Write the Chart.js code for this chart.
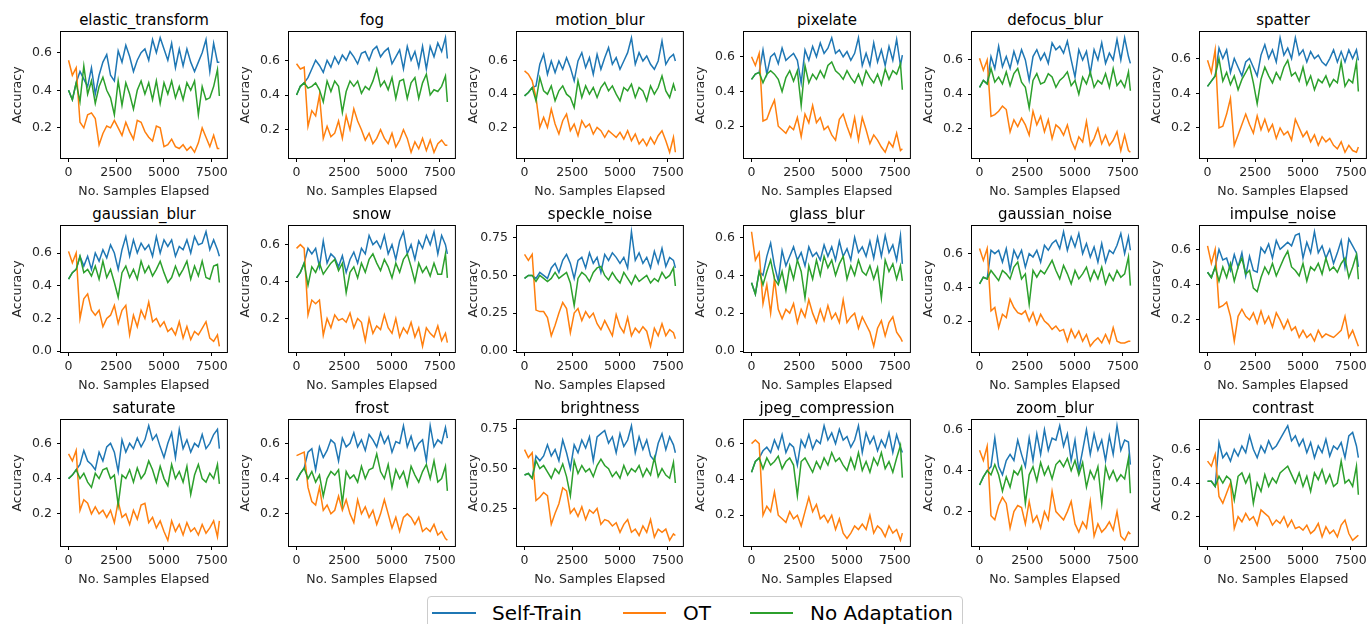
<!DOCTYPE html>
<html>
<head>
<meta charset="utf-8">
<script src="https://cdn.jsdelivr.net/npm/chart.js@4.4.1/dist/chart.umd.min.js"></script>
<style>
html,body{margin:0;padding:0;background:#fff;}
body{width:1369px;height:624px;overflow:hidden;position:relative;font-family:"DejaVu Sans",sans-serif;}
canvas.sub{position:absolute;}
.ttl{position:absolute;width:166px;text-align:center;font-size:15px;line-height:18px;color:#000;white-space:nowrap;}
#legend{position:absolute;left:427px;top:596px;width:536px;height:44px;border:1px solid #ccc;border-radius:4px;box-sizing:border-box;background:#fff;}
.lline{position:absolute;height:2px;top:612px;}
.ltext{position:absolute;top:601px;font-size:20px;line-height:24px;color:#000;white-space:nowrap;}
</style>
</head>
<body>
<div id="legend"></div>
<div class="lline" style="left:432px;width:44px;background:#1f77b4"></div>
<div class="ltext" style="left:492px">Self-Train</div>
<div class="lline" style="left:623px;width:43px;background:#ff7f0e"></div>
<div class="ltext" style="left:683px">OT</div>
<div class="lline" style="left:750px;width:43px;background:#2ca02c"></div>
<div class="ltext" style="left:810px">No Adaptation</div>
<script>
// ---------- data ----------
const corruptions = ["elastic_transform","fog","motion_blur","pixelate","defocus_blur","spatter",
  "gaussian_blur","snow","speckle_noise","glass_blur","gaussian_noise","impulse_noise",
  "saturate","frost","brightness","jpeg_compression","zoom_blur","contrast"];
const seriesNames = ["Self-Train","OT","No Adaptation"];
const xSamples = [0,200,400,600,800,1000,1200,1400,1600,1800,2000,2200,2400,2600,2800,3000,3200,3400,3600,3800,
  4000,4200,4400,4600,4800,5000,5200,5400,5600,5800,6000,6200,6400,6600,6800,7000,7200,7400,7600,7800,7900];
const xTicks = [0,2500,5000,7500];
const yTickSteps = [0.2,0.2,0.2,0.2,0.2,0.2, 0.2,0.2,0.25,0.2,0.2,0.2, 0.2,0.2,0.25,0.2,0.2,0.2];

const st_elastic_transform = [0.40,0.35,0.44,0.50,0.46,0.42,0.52,0.38,0.48,0.55,0.59,0.48,0.45,0.61,0.55,0.64,0.58,0.50,0.56,0.60,0.62,0.56,0.67,0.60,0.68,0.62,0.56,0.65,0.52,0.62,0.53,0.62,0.55,0.50,0.55,0.60,0.67,0.50,0.65,0.55,0.55];
const ot_elastic_transform = [0.56,0.48,0.52,0.23,0.20,0.27,0.28,0.25,0.11,0.17,0.21,0.20,0.24,0.20,0.16,0.23,0.18,0.14,0.24,0.23,0.18,0.15,0.13,0.21,0.20,0.10,0.11,0.14,0.10,0.09,0.11,0.08,0.10,0.07,0.12,0.20,0.15,0.10,0.16,0.09,0.09];
const na_elastic_transform = [0.40,0.35,0.44,0.34,0.53,0.38,0.45,0.33,0.42,0.47,0.40,0.36,0.27,0.45,0.32,0.44,0.38,0.30,0.40,0.45,0.38,0.44,0.35,0.45,0.33,0.44,0.38,0.45,0.36,0.42,0.35,0.44,0.40,0.45,0.27,0.42,0.35,0.36,0.42,0.51,0.37];

const st_fog = [0.40,0.45,0.47,0.50,0.55,0.60,0.57,0.53,0.60,0.56,0.62,0.58,0.63,0.60,0.65,0.62,0.58,0.64,0.65,0.60,0.66,0.68,0.62,0.65,0.67,0.58,0.62,0.66,0.55,0.68,0.60,0.65,0.56,0.68,0.55,0.68,0.62,0.70,0.65,0.73,0.61];
const ot_fog = [0.58,0.55,0.56,0.22,0.31,0.28,0.40,0.15,0.22,0.16,0.18,0.25,0.15,0.28,0.20,0.32,0.25,0.20,0.14,0.18,0.12,0.15,0.20,0.15,0.12,0.18,0.10,0.14,0.20,0.15,0.07,0.13,0.09,0.15,0.08,0.14,0.07,0.12,0.14,0.11,0.11];
const na_fog = [0.40,0.45,0.47,0.44,0.45,0.47,0.43,0.36,0.48,0.42,0.48,0.45,0.30,0.42,0.48,0.45,0.48,0.41,0.45,0.43,0.48,0.55,0.45,0.48,0.43,0.50,0.38,0.48,0.49,0.38,0.47,0.50,0.38,0.47,0.52,0.40,0.43,0.42,0.45,0.51,0.36];

const st_motion_blur = [0.39,0.41,0.44,0.45,0.58,0.64,0.52,0.60,0.53,0.60,0.55,0.62,0.56,0.48,0.60,0.65,0.56,0.62,0.52,0.64,0.55,0.62,0.68,0.58,0.62,0.55,0.60,0.65,0.74,0.58,0.65,0.60,0.63,0.58,0.55,0.60,0.72,0.58,0.62,0.64,0.60];
const ot_motion_blur = [0.54,0.52,0.48,0.38,0.20,0.26,0.20,0.31,0.22,0.16,0.24,0.28,0.18,0.22,0.15,0.24,0.20,0.22,0.16,0.20,0.18,0.14,0.18,0.16,0.14,0.17,0.13,0.18,0.12,0.16,0.10,0.13,0.09,0.14,0.10,0.15,0.18,0.12,0.05,0.14,0.05];
const na_motion_blur = [0.39,0.41,0.44,0.36,0.50,0.42,0.40,0.45,0.36,0.42,0.45,0.40,0.38,0.32,0.48,0.38,0.45,0.40,0.44,0.38,0.44,0.47,0.42,0.45,0.40,0.36,0.44,0.42,0.46,0.38,0.44,0.42,0.36,0.45,0.40,0.44,0.51,0.42,0.38,0.46,0.42];

const st_pixelate = [0.47,0.50,0.51,0.64,0.50,0.60,0.62,0.56,0.65,0.58,0.60,0.62,0.58,0.45,0.64,0.58,0.66,0.60,0.68,0.62,0.65,0.71,0.62,0.64,0.60,0.63,0.58,0.62,0.71,0.55,0.62,0.55,0.68,0.57,0.64,0.55,0.66,0.58,0.70,0.55,0.61];
const ot_pixelate = [0.60,0.55,0.62,0.23,0.24,0.30,0.35,0.20,0.18,0.16,0.20,0.18,0.25,0.14,0.27,0.22,0.32,0.22,0.25,0.18,0.20,0.15,0.12,0.24,0.27,0.20,0.14,0.25,0.12,0.25,0.18,0.10,0.15,0.12,0.08,0.05,0.11,0.08,0.16,0.06,0.07];
const na_pixelate = [0.47,0.50,0.51,0.45,0.50,0.52,0.50,0.47,0.40,0.48,0.52,0.46,0.52,0.32,0.55,0.45,0.50,0.47,0.52,0.48,0.55,0.57,0.52,0.50,0.47,0.52,0.48,0.45,0.50,0.44,0.52,0.48,0.45,0.50,0.44,0.53,0.47,0.52,0.50,0.56,0.41];

const st_defocus_blur = [0.44,0.48,0.46,0.62,0.55,0.68,0.56,0.62,0.55,0.65,0.58,0.66,0.60,0.48,0.62,0.66,0.60,0.64,0.58,0.70,0.66,0.68,0.64,0.71,0.60,0.50,0.66,0.60,0.65,0.52,0.66,0.60,0.70,0.58,0.64,0.60,0.72,0.60,0.73,0.62,0.58];
const ot_defocus_blur = [0.61,0.54,0.60,0.27,0.28,0.30,0.33,0.31,0.18,0.25,0.21,0.26,0.22,0.16,0.30,0.22,0.27,0.18,0.25,0.14,0.22,0.20,0.16,0.22,0.13,0.08,0.15,0.12,0.24,0.10,0.14,0.20,0.11,0.16,0.10,0.13,0.18,0.07,0.16,0.07,0.06];
const na_defocus_blur = [0.44,0.48,0.46,0.55,0.47,0.50,0.46,0.53,0.45,0.52,0.55,0.47,0.44,0.32,0.48,0.52,0.46,0.47,0.52,0.50,0.44,0.48,0.50,0.53,0.45,0.48,0.40,0.50,0.46,0.53,0.44,0.48,0.46,0.52,0.44,0.55,0.45,0.48,0.44,0.53,0.42];

const st_spatter = [0.44,0.47,0.50,0.66,0.60,0.65,0.52,0.60,0.55,0.50,0.58,0.60,0.55,0.50,0.62,0.68,0.60,0.65,0.58,0.72,0.62,0.66,0.60,0.72,0.62,0.65,0.58,0.64,0.60,0.62,0.58,0.56,0.60,0.65,0.58,0.64,0.58,0.65,0.60,0.65,0.59];
const ot_spatter = [0.59,0.52,0.65,0.20,0.21,0.28,0.37,0.10,0.16,0.22,0.28,0.22,0.17,0.27,0.19,0.25,0.18,0.22,0.14,0.20,0.16,0.18,0.13,0.25,0.20,0.15,0.18,0.12,0.16,0.10,0.15,0.12,0.14,0.10,0.08,0.12,0.06,0.10,0.07,0.06,0.09];
const na_spatter = [0.44,0.47,0.50,0.60,0.47,0.52,0.45,0.50,0.42,0.48,0.52,0.56,0.46,0.34,0.48,0.55,0.50,0.46,0.52,0.48,0.55,0.59,0.50,0.52,0.47,0.55,0.45,0.50,0.42,0.48,0.46,0.50,0.44,0.48,0.46,0.58,0.44,0.48,0.46,0.58,0.41];

const st_gaussian_blur = [0.44,0.48,0.50,0.58,0.52,0.58,0.50,0.60,0.55,0.62,0.57,0.65,0.60,0.50,0.62,0.70,0.58,0.68,0.60,0.66,0.62,0.65,0.58,0.70,0.60,0.68,0.64,0.68,0.58,0.64,0.62,0.68,0.60,0.70,0.65,0.66,0.73,0.62,0.68,0.62,0.58];
const ot_gaussian_blur = [0.61,0.54,0.60,0.20,0.32,0.35,0.25,0.22,0.25,0.15,0.20,0.22,0.28,0.17,0.25,0.28,0.10,0.22,0.15,0.25,0.20,0.30,0.18,0.20,0.15,0.18,0.12,0.14,0.10,0.18,0.08,0.15,0.07,0.12,0.10,0.14,0.18,0.08,0.06,0.10,0.03];
const na_gaussian_blur = [0.44,0.48,0.50,0.58,0.48,0.50,0.46,0.52,0.44,0.55,0.45,0.50,0.42,0.33,0.48,0.52,0.45,0.50,0.44,0.55,0.48,0.52,0.46,0.50,0.55,0.48,0.42,0.45,0.52,0.46,0.50,0.55,0.44,0.52,0.46,0.55,0.45,0.44,0.52,0.53,0.42];

const st_snow = [0.42,0.45,0.50,0.58,0.55,0.58,0.48,0.62,0.50,0.55,0.53,0.48,0.54,0.45,0.52,0.56,0.50,0.58,0.55,0.65,0.60,0.62,0.58,0.65,0.55,0.60,0.52,0.62,0.67,0.55,0.60,0.52,0.62,0.58,0.65,0.60,0.67,0.55,0.65,0.60,0.55];
const ot_snow = [0.58,0.60,0.58,0.22,0.30,0.28,0.30,0.11,0.20,0.15,0.22,0.19,0.20,0.18,0.23,0.15,0.20,0.18,0.08,0.20,0.12,0.16,0.14,0.22,0.15,0.12,0.20,0.10,0.15,0.12,0.18,0.10,0.15,0.05,0.15,0.12,0.10,0.16,0.08,0.12,0.07];
const na_snow = [0.42,0.45,0.50,0.38,0.48,0.45,0.50,0.44,0.47,0.50,0.52,0.46,0.50,0.34,0.45,0.48,0.42,0.50,0.45,0.52,0.55,0.50,0.46,0.52,0.48,0.42,0.50,0.45,0.52,0.55,0.48,0.40,0.50,0.45,0.48,0.43,0.50,0.44,0.44,0.55,0.42];

const st_speckle_noise = [0.48,0.50,0.50,0.48,0.52,0.50,0.48,0.55,0.58,0.52,0.60,0.64,0.58,0.48,0.60,0.62,0.55,0.65,0.58,0.62,0.52,0.64,0.60,0.65,0.62,0.58,0.62,0.55,0.79,0.60,0.65,0.58,0.62,0.55,0.66,0.58,0.68,0.56,0.62,0.60,0.55];
const ot_speckle_noise = [0.64,0.60,0.64,0.27,0.26,0.26,0.22,0.10,0.17,0.25,0.32,0.28,0.12,0.25,0.28,0.20,0.26,0.22,0.25,0.18,0.14,0.20,0.15,0.10,0.24,0.16,0.12,0.22,0.10,0.15,0.12,0.16,0.13,0.03,0.15,0.10,0.18,0.10,0.14,0.12,0.08];
const na_speckle_noise = [0.48,0.50,0.50,0.46,0.50,0.48,0.46,0.48,0.52,0.48,0.50,0.52,0.45,0.30,0.48,0.52,0.50,0.46,0.52,0.55,0.56,0.50,0.47,0.52,0.48,0.45,0.52,0.48,0.44,0.50,0.46,0.48,0.50,0.45,0.48,0.46,0.52,0.48,0.50,0.55,0.43];

const st_glass_blur = [0.36,0.30,0.42,0.40,0.50,0.57,0.45,0.37,0.53,0.45,0.50,0.55,0.48,0.52,0.45,0.55,0.50,0.52,0.48,0.56,0.50,0.55,0.48,0.58,0.50,0.54,0.48,0.60,0.52,0.55,0.50,0.58,0.49,0.60,0.50,0.61,0.52,0.56,0.48,0.61,0.46];
const ot_glass_blur = [0.63,0.48,0.52,0.25,0.35,0.20,0.38,0.22,0.17,0.22,0.20,0.25,0.15,0.22,0.18,0.27,0.20,0.15,0.22,0.16,0.24,0.17,0.20,0.15,0.27,0.15,0.18,0.20,0.12,0.18,0.14,0.10,0.025,0.12,0.16,0.08,0.15,0.18,0.10,0.07,0.05];
const na_glass_blur = [0.36,0.30,0.42,0.35,0.42,0.48,0.38,0.35,0.42,0.32,0.45,0.38,0.48,0.42,0.28,0.45,0.38,0.48,0.40,0.50,0.44,0.48,0.40,0.46,0.50,0.38,0.45,0.40,0.48,0.42,0.40,0.45,0.38,0.44,0.28,0.48,0.42,0.46,0.38,0.45,0.37];

const st_gaussian_noise = [0.42,0.46,0.45,0.62,0.60,0.62,0.55,0.63,0.50,0.62,0.57,0.62,0.52,0.60,0.58,0.62,0.55,0.65,0.62,0.66,0.68,0.63,0.73,0.62,0.70,0.64,0.72,0.60,0.66,0.58,0.64,0.55,0.66,0.55,0.62,0.60,0.65,0.72,0.60,0.70,0.62];
const ot_gaussian_noise = [0.63,0.56,0.63,0.26,0.28,0.16,0.24,0.22,0.33,0.28,0.25,0.24,0.26,0.20,0.25,0.18,0.24,0.20,0.18,0.15,0.17,0.14,0.15,0.08,0.15,0.10,0.14,0.08,0.12,0.05,0.08,0.10,0.07,0.12,0.07,0.16,0.08,0.07,0.07,0.08,0.08];
const na_gaussian_noise = [0.42,0.46,0.45,0.50,0.47,0.44,0.50,0.48,0.45,0.52,0.55,0.45,0.48,0.30,0.50,0.46,0.50,0.48,0.52,0.56,0.50,0.45,0.53,0.48,0.42,0.50,0.45,0.48,0.52,0.44,0.50,0.45,0.52,0.42,0.48,0.44,0.50,0.46,0.48,0.58,0.41];

const st_impulse_noise = [0.47,0.44,0.50,0.60,0.54,0.55,0.48,0.57,0.50,0.58,0.45,0.56,0.48,0.47,0.61,0.58,0.63,0.55,0.65,0.60,0.62,0.64,0.62,0.68,0.69,0.55,0.64,0.58,0.70,0.58,0.62,0.55,0.60,0.52,0.58,0.65,0.50,0.66,0.62,0.58,0.50];
const ot_impulse_noise = [0.62,0.52,0.60,0.27,0.28,0.30,0.22,0.08,0.22,0.26,0.22,0.20,0.24,0.18,0.25,0.18,0.22,0.16,0.24,0.20,0.15,0.20,0.14,0.16,0.10,0.14,0.10,0.12,0.08,0.14,0.10,0.12,0.11,0.10,0.12,0.14,0.22,0.10,0.14,0.08,0.05];
const na_impulse_noise = [0.47,0.44,0.50,0.42,0.50,0.44,0.52,0.42,0.50,0.55,0.46,0.48,0.38,0.36,0.44,0.50,0.46,0.52,0.45,0.50,0.55,0.59,0.50,0.48,0.45,0.52,0.42,0.50,0.48,0.52,0.46,0.55,0.48,0.50,0.47,0.52,0.55,0.44,0.50,0.57,0.43];

const st_saturate = [0.40,0.42,0.45,0.48,0.56,0.50,0.48,0.45,0.55,0.50,0.58,0.60,0.55,0.44,0.62,0.55,0.60,0.57,0.63,0.58,0.62,0.70,0.62,0.65,0.58,0.52,0.60,0.66,0.52,0.68,0.57,0.62,0.55,0.60,0.58,0.65,0.57,0.60,0.65,0.68,0.57];
const ot_saturate = [0.54,0.50,0.56,0.22,0.28,0.26,0.20,0.24,0.20,0.22,0.18,0.22,0.15,0.27,0.18,0.20,0.14,0.22,0.17,0.25,0.26,0.15,0.18,0.12,0.16,0.10,0.05,0.16,0.10,0.14,0.08,0.15,0.10,0.12,0.08,0.14,0.09,0.12,0.16,0.07,0.16];
const na_saturate = [0.40,0.42,0.45,0.40,0.43,0.38,0.35,0.43,0.40,0.45,0.46,0.40,0.42,0.25,0.42,0.40,0.45,0.38,0.46,0.40,0.43,0.50,0.45,0.38,0.47,0.40,0.36,0.48,0.40,0.44,0.38,0.47,0.31,0.42,0.48,0.40,0.38,0.43,0.40,0.48,0.37];

const st_frost = [0.39,0.43,0.46,0.55,0.57,0.45,0.58,0.52,0.56,0.62,0.60,0.50,0.63,0.58,0.60,0.66,0.58,0.62,0.56,0.65,0.62,0.58,0.66,0.60,0.64,0.55,0.61,0.60,0.70,0.58,0.64,0.56,0.60,0.62,0.50,0.70,0.58,0.62,0.60,0.69,0.63];
const ot_frost = [0.53,0.54,0.55,0.35,0.27,0.25,0.35,0.22,0.25,0.20,0.22,0.30,0.22,0.28,0.20,0.15,0.28,0.20,0.24,0.18,0.22,0.14,0.20,0.28,0.20,0.12,0.18,0.10,0.18,0.20,0.18,0.14,0.18,0.10,0.12,0.10,0.14,0.08,0.10,0.06,0.05];
const na_frost = [0.39,0.43,0.46,0.40,0.44,0.38,0.42,0.30,0.40,0.44,0.42,0.45,0.26,0.44,0.40,0.42,0.38,0.47,0.40,0.45,0.46,0.54,0.44,0.40,0.48,0.35,0.45,0.40,0.44,0.36,0.47,0.42,0.38,0.44,0.48,0.40,0.50,0.38,0.40,0.47,0.33];

const st_brightness = [0.46,0.47,0.44,0.58,0.55,0.58,0.65,0.58,0.62,0.55,0.68,0.60,0.50,0.65,0.60,0.68,0.63,0.70,0.55,0.70,0.72,0.74,0.66,0.70,0.60,0.72,0.64,0.68,0.77,0.60,0.70,0.62,0.68,0.58,0.55,0.66,0.72,0.62,0.70,0.65,0.60];
const ot_brightness = [0.62,0.57,0.60,0.30,0.32,0.35,0.33,0.15,0.22,0.28,0.38,0.36,0.22,0.25,0.20,0.26,0.18,0.24,0.22,0.25,0.15,0.18,0.17,0.14,0.16,0.10,0.15,0.18,0.10,0.12,0.08,0.14,0.10,0.18,0.07,0.12,0.10,0.12,0.05,0.09,0.08];
const na_brightness = [0.46,0.47,0.44,0.55,0.50,0.52,0.48,0.44,0.50,0.47,0.53,0.45,0.33,0.55,0.47,0.52,0.48,0.50,0.45,0.52,0.56,0.52,0.50,0.45,0.48,0.44,0.52,0.46,0.50,0.48,0.52,0.45,0.50,0.46,0.57,0.45,0.50,0.46,0.44,0.54,0.41];

const st_jpeg_compression = [0.44,0.50,0.52,0.56,0.58,0.55,0.62,0.57,0.65,0.55,0.60,0.58,0.48,0.62,0.58,0.65,0.57,0.62,0.60,0.70,0.62,0.66,0.60,0.68,0.62,0.64,0.58,0.62,0.70,0.55,0.66,0.60,0.64,0.56,0.62,0.58,0.66,0.55,0.65,0.58,0.55];
const ot_jpeg_compression = [0.60,0.62,0.60,0.20,0.25,0.22,0.33,0.20,0.18,0.16,0.22,0.18,0.20,0.14,0.22,0.30,0.22,0.26,0.18,0.20,0.16,0.20,0.12,0.18,0.10,0.07,0.10,0.14,0.12,0.15,0.12,0.20,0.10,0.14,0.12,0.08,0.14,0.10,0.12,0.06,0.10];
const na_jpeg_compression = [0.44,0.50,0.52,0.46,0.52,0.48,0.50,0.53,0.46,0.50,0.52,0.48,0.31,0.50,0.52,0.48,0.44,0.50,0.46,0.52,0.48,0.55,0.50,0.52,0.48,0.45,0.52,0.46,0.55,0.45,0.50,0.44,0.52,0.48,0.55,0.46,0.50,0.44,0.52,0.59,0.41];

const st_zoom_blur = [0.33,0.37,0.40,0.42,0.56,0.42,0.38,0.45,0.48,0.45,0.55,0.48,0.42,0.56,0.45,0.58,0.48,0.60,0.50,0.56,0.55,0.62,0.52,0.58,0.45,0.55,0.40,0.50,0.60,0.48,0.58,0.50,0.55,0.45,0.57,0.48,0.62,0.50,0.55,0.54,0.43];
const ot_zoom_blur = [0.50,0.45,0.52,0.18,0.16,0.23,0.27,0.24,0.12,0.20,0.23,0.22,0.14,0.25,0.15,0.18,0.12,0.20,0.16,0.30,0.20,0.18,0.16,0.20,0.25,0.14,0.10,0.15,0.12,0.25,0.08,0.14,0.10,0.12,0.15,0.11,0.20,0.08,0.06,0.10,0.09];
const na_zoom_blur = [0.33,0.37,0.40,0.38,0.43,0.38,0.30,0.37,0.32,0.40,0.38,0.42,0.24,0.38,0.42,0.35,0.44,0.38,0.42,0.36,0.43,0.45,0.42,0.46,0.40,0.45,0.38,0.44,0.32,0.40,0.36,0.42,0.24,0.42,0.36,0.40,0.35,0.38,0.36,0.46,0.29];

const st_contrast = [0.41,0.41,0.38,0.64,0.55,0.58,0.53,0.60,0.56,0.62,0.58,0.68,0.60,0.55,0.62,0.58,0.65,0.60,0.62,0.66,0.70,0.74,0.65,0.68,0.62,0.66,0.58,0.64,0.55,0.62,0.58,0.66,0.56,0.62,0.60,0.64,0.55,0.68,0.70,0.62,0.55];
const ot_contrast = [0.53,0.50,0.57,0.32,0.28,0.34,0.40,0.13,0.20,0.17,0.22,0.18,0.20,0.15,0.24,0.22,0.20,0.15,0.18,0.16,0.20,0.14,0.18,0.13,0.14,0.12,0.15,0.10,0.12,0.16,0.08,0.14,0.10,0.12,0.08,0.15,0.18,0.10,0.06,0.08,0.09];
const na_contrast = [0.41,0.41,0.38,0.44,0.40,0.44,0.42,0.30,0.44,0.46,0.40,0.45,0.28,0.40,0.35,0.45,0.38,0.43,0.40,0.46,0.48,0.50,0.45,0.40,0.46,0.38,0.44,0.35,0.46,0.42,0.48,0.40,0.45,0.38,0.40,0.53,0.40,0.42,0.38,0.50,0.33];

// ---------- assembly ----------
const seriesByCorruption = {
  elastic_transform:[st_elastic_transform,ot_elastic_transform,na_elastic_transform],
  fog:[st_fog,ot_fog,na_fog],
  motion_blur:[st_motion_blur,ot_motion_blur,na_motion_blur],
  pixelate:[st_pixelate,ot_pixelate,na_pixelate],
  defocus_blur:[st_defocus_blur,ot_defocus_blur,na_defocus_blur],
  spatter:[st_spatter,ot_spatter,na_spatter],
  gaussian_blur:[st_gaussian_blur,ot_gaussian_blur,na_gaussian_blur],
  snow:[st_snow,ot_snow,na_snow],
  speckle_noise:[st_speckle_noise,ot_speckle_noise,na_speckle_noise],
  glass_blur:[st_glass_blur,ot_glass_blur,na_glass_blur],
  gaussian_noise:[st_gaussian_noise,ot_gaussian_noise,na_gaussian_noise],
  impulse_noise:[st_impulse_noise,ot_impulse_noise,na_impulse_noise],
  saturate:[st_saturate,ot_saturate,na_saturate],
  frost:[st_frost,ot_frost,na_frost],
  brightness:[st_brightness,ot_brightness,na_brightness],
  jpeg_compression:[st_jpeg_compression,ot_jpeg_compression,na_jpeg_compression],
  zoom_blur:[st_zoom_blur,ot_zoom_blur,na_zoom_blur],
  contrast:[st_contrast,ot_contrast,na_contrast]
};

const COLORS = ["#1f77b4","#ff7f0e","#2ca02c"];
const ORDERS = [2,1,0];
const FONT = "'DejaVu Sans', sans-serif";
const TXT = "#262626";
const PLOT_W = 166, PLOT_H = 126, AX_W = 61, TITLE_H = 30, XAX_H = 44, RPAD = 4;
const rowTops = [32, 226, 420];

const framePlugin = {
  id: 'frame',
  afterDatasetsDraw(chart) {
    const a = chart.chartArea, ctx = chart.ctx;
    ctx.save();
    ctx.strokeStyle = '#000';
    ctx.lineWidth = 1;
    ctx.strokeRect(a.left - 0.5, a.top - 0.5, a.right - a.left + 1, a.bottom - a.top + 1);
    ctx.restore();
  }
};

corruptions.forEach((name, idx) => {
  const row = Math.floor(idx / 6), col = idx % 6;
  const plotLeft = Math.round(61 + col * 227.8);
  const plotTop = rowTops[row];

  const t = document.createElement('div');
  t.className = 'ttl';
  t.textContent = name;
  t.style.left = plotLeft + 'px';
  t.style.top = (plotTop - 21) + 'px';
  document.body.appendChild(t);

  const cv = document.createElement('canvas');
  cv.className = 'sub';
  cv.width = AX_W + PLOT_W + RPAD;
  cv.height = TITLE_H + PLOT_H + XAX_H;
  cv.style.left = (plotLeft - AX_W) + 'px';
  cv.style.top = (plotTop - TITLE_H) + 'px';
  cv.style.width = cv.width + 'px';
  cv.style.height = cv.height + 'px';
  document.body.appendChild(cv);

  const lists = seriesByCorruption[name];
  const all = [].concat(...lists);
  const lo = Math.min(...all), hi = Math.max(...all);
  const m = (hi - lo) * 0.05;
  const ymin = lo - m, ymax = hi + m;
  const step = yTickSteps[idx];
  const dec = step === 0.25 ? 2 : 1;
  const yTicks = [];
  for (let k = Math.ceil(ymin / step - 1e-9); k * step <= ymax + 1e-9; k++) yTicks.push(+(k * step).toFixed(4));

  const datasets = lists.map((vals, s) => ({
    label: seriesNames[s],
    data: xSamples.map((x, i) => ({x: x, y: vals[i]})),
    borderColor: COLORS[s],
    backgroundColor: COLORS[s],
    borderWidth: 1.5,
    pointRadius: 0,
    tension: 0,
    fill: false,
    order: ORDERS[s]
  }));

  new Chart(cv, {
    type: 'line',
    data: {datasets},
    options: {
      responsive: false,
      animation: false,
      events: [],
      layout: {padding: {top: TITLE_H, left: 0, right: RPAD, bottom: 0}},
      plugins: {
        legend: {display: false},
        tooltip: {enabled: false},
        title: {display: false}
      },
      scales: {
        x: {
          type: 'linear', min: -395, max: 8295,
          afterBuildTicks: s => { s.ticks = xTicks.map(v => ({value: v})); },
          afterFit: s => { s.height = XAX_H; },
          ticks: {font: {family: FONT, size: 12.5}, color: TXT, padding: 3, maxRotation: 0, autoSkip: false,
            callback: v => String(v)},
          grid: {display: true, drawOnChartArea: false, drawTicks: true, tickLength: 4, tickColor: '#000', tickWidth: 1},
          border: {display: false},
          title: {display: true, text: 'No. Samples Elapsed', color: TXT,
            font: {family: FONT, size: 12.5}, padding: {top: 0, bottom: 2.5}}
        },
        y: {
          type: 'linear', min: ymin, max: ymax,
          afterBuildTicks: s => { s.ticks = yTicks.map(v => ({value: v})); },
          afterFit: s => { s.width = AX_W; },
          ticks: {font: {family: FONT, size: 12.5}, color: TXT, padding: 5, autoSkip: false,
            callback: v => Number(v).toFixed(dec)},
          grid: {display: true, drawOnChartArea: false, drawTicks: true, tickLength: 4, tickColor: '#000', tickWidth: 1},
          border: {display: false},
          title: {display: true, text: 'Accuracy', color: TXT,
            font: {family: FONT, size: 12.5}, padding: {top: 10.5, bottom: 0}}
        }
      }
    },
    plugins: [framePlugin]
  });
});
</script>
</body>
</html>
